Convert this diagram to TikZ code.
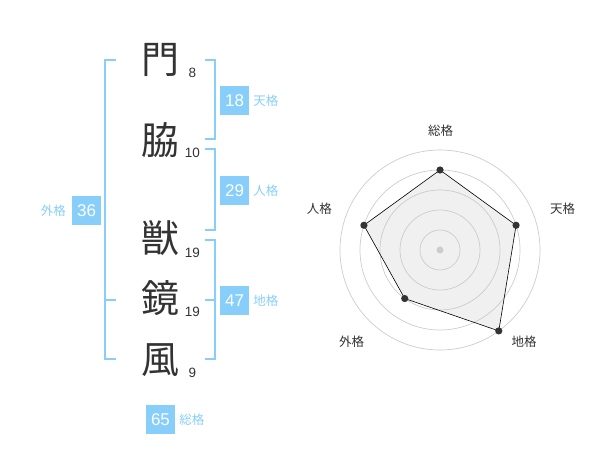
\documentclass[tikz,border=0pt]{standalone}
\usepackage{fontspec}
\setmainfont{Liberation Sans}
\newfontfamily\jp{Noto Sans CJK JP}
\definecolor{sky}{HTML}{87CEFA}
\definecolor{ink}{HTML}{333333}
\definecolor{ringg}{HTML}{CCCCCC}
\definecolor{areag}{HTML}{F0F0F0}
\usetikzlibrary{positioning}

\tikzset{
	kanji/.style={text=ink, inner sep=0pt, font=\jp\fontsize{38}{38}\selectfont},
	stroke/.style={text=ink, inner sep=0pt, font=\fontsize{13.5}{14}\selectfont},
	score/.style={fill=sky, text=white, inner sep=0pt, minimum size=29pt, font=\fontsize{17}{17}\selectfont},
	kaku/.style={text=sky, inner sep=0pt, font=\jp\fontsize{12.5}{13}\selectfont},
	brace/.style={draw=sky, line width=2pt},
	axis/.style={text=ink, inner sep=0pt, font=\jp\fontsize{12.5}{13}\selectfont}
}

\begin{document}
\begin{tikzpicture}[x=1pt, y=-1pt]
		\useasboundingbox (0,0) rectangle (600,470);
		% name
		\node[kanji] (k1) at (160,60) {門};
		\node[kanji] (k2) at (160,140) {脇};
		\node[kanji] (k3) at (160,238) {獣};
		\node[kanji] (k4) at (160,298) {鏡};
		\node[kanji] (k5) at (160,360) {風};
		\node[stroke] (n1) at (192.5,72.7) {8};
		\node[stroke] (n2) at (192.5,152.7) {10};
		\node[stroke] (n3) at (192.5,252.7) {19};
		\node[stroke] (n4) at (192.5,311.7) {19};
		\node[stroke] (n5) at (192.5,372.7) {9};
		% brackets
		\draw[brace] (205,60) -- (215,60) -- (215,139.3) -- (205,139.3);
		\draw[brace] (205,149.3) -- (215,149.3) -- (215,230) -- (205,230);
		\draw[brace] (205,240) -- (215,240) -- (215,359.3) -- (205,359.3);
		\draw[brace] (205,300) -- (215,300);
		\draw[brace] (116,60) -- (105,60) -- (105,359.3) -- (116,359.3);
		\draw[brace] (105,300) -- (116,300);
		% scores
		\node[score] (s1) at (234.5,100.5) {18};
		\node[kaku, right=4pt of s1] (t1) {天格};
		\node[score] (s2) at (234.5,190.5) {29};
		\node[kaku, right=4pt of s2] (t2) {人格};
		\node[score] (s3) at (234.5,300.5) {47};
		\node[kaku, right=4pt of s3] (t3) {地格};
		\node[score] (s4) at (86.7,210.5) {36};
		\node[kaku, left=6pt of s4] (t4) {外格};
		\node[score] (s5) at (160.5,419.5) {65};
		\node[kaku, right=4pt of s5] (t5) {総格};
		% radar
		\begin{scope}[shift={(440,250)}, x=1pt, y=1pt]
		\foreach \a/\v [count=\i] in {90/4, 18/4, -54/5, -126/3, 162/4}
		\coordinate (p\i) at (\a:\v*20);
		\fill[areag] (p1) -- (p2) -- (p3) -- (p4) -- (p5) -- cycle;
		\foreach \r in {20,40,...,100}
		\draw[ringg, line width=0.7pt] (0,0) circle (\r pt);
		\fill[ringg] (0,0) circle (3.5pt);
		\draw[black, line width=0.6pt] (p1) -- (p2) -- (p3) -- (p4) -- (p5) -- cycle;
		\foreach \i in {1,...,5}
		\fill[ink] (p\i) circle (3.6pt);
		\node[axis] (a1) at (0.7,119.3) {総格};
		\node[axis] (a2) at (122.7,41.7) {天格};
		\node[axis] (a3) at (84,-92) {地格};
		\node[axis] (a4) at (-88.3,-92) {外格};
		\node[axis] (a5) at (-120.7,41.7) {人格};
		\end{scope}
		\end{tikzpicture}
\end{document}
